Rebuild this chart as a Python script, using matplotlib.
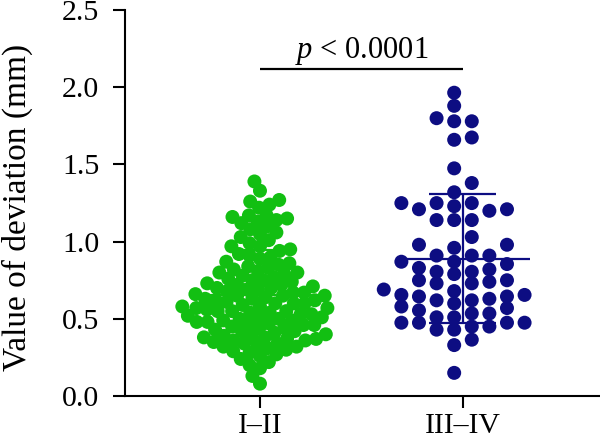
import numpy as np
import matplotlib
matplotlib.use('Agg')
import matplotlib.pyplot as plt

# ---------------- data ----------------
categories = ['I–II', 'III–IV']

green_values = [
    0.08, 0.13, 0.18, 0.20, 0.22, 0.24, 0.26, 0.27, 0.28, 0.29,
    0.30, 0.31, 0.32, 0.32, 0.33, 0.34, 0.34,
    0.35, 0.36, 0.36, 0.37, 0.37, 0.38, 0.38, 0.39, 0.39,
    0.40, 0.41, 0.42, 0.42, 0.43, 0.44, 0.44, 0.45,
    0.46, 0.46, 0.47, 0.47, 0.48, 0.48, 0.49, 0.49, 0.50, 0.50,
    0.51, 0.51, 0.52, 0.53, 0.53, 0.54, 0.54, 0.55, 0.55, 0.55,
    0.56, 0.57, 0.57, 0.58, 0.58, 0.59, 0.60, 0.60, 0.60,
    0.61, 0.62, 0.62, 0.63, 0.63, 0.64, 0.65, 0.65, 0.65,
    0.66, 0.67, 0.67, 0.68, 0.69, 0.69, 0.70, 0.70,
    0.71, 0.72, 0.72, 0.73, 0.74, 0.75, 0.75,
    0.76, 0.77, 0.78, 0.79, 0.80, 0.80,
    0.81, 0.82, 0.83, 0.84, 0.85,
    0.86, 0.87, 0.89, 0.90,
    0.91, 0.92, 0.94, 0.95,
    0.97, 0.97, 0.99,
    1.01, 1.03, 1.05,
    1.06, 1.08, 1.10,
    1.12, 1.13, 1.14, 1.15,
    1.16, 1.17, 1.17,
    1.22, 1.24, 1.26, 1.27, 1.33, 1.39,
]

blue_values = [
    1.25, 0.83, 0.69, 0.62, 0.475,
    1.32, 1.25, 0.96, 0.87, 0.75, 0.63, 0.57, 0.475,
    1.23, 1.14, 0.91, 0.82, 0.68, 0.60, 0.51, 0.43,
    1.965, 1.78, 1.675, 1.21, 0.98, 0.855, 0.75, 0.655, 0.51, 0.43, 0.33, 0.15,
    1.88, 1.78, 1.66, 1.475, 1.38, 1.14, 0.98, 0.79, 0.62, 0.535, 0.45, 0.365,
    1.80, 1.25, 1.14, 1.03, 0.91, 0.805, 0.73, 0.645, 0.535, 0.45,
    1.20, 0.91, 0.805, 0.73, 0.645, 0.555, 0.475,
    1.21, 0.87, 0.74, 0.655, 0.58, 0.475,
]

y_ticks = [0.0, 0.5, 1.0, 1.5, 2.0, 2.5]
y_label = 'Value of deviation (mm)'
p_label = r'$p$ < 0.0001'

green_color = '#12bf12'
blue_color = '#0d0d82'

# ---------------- style ----------------
plt.rcParams['font.family'] = ['Liberation Serif', 'DejaVu Serif']
plt.rcParams['mathtext.fontset'] = 'custom'
plt.rcParams['mathtext.rm'] = 'Liberation Serif'
plt.rcParams['mathtext.it'] = 'Liberation Serif:italic'

TICK_FS = 21.5
LABEL_FS = 24
P_FS = 22

fig = plt.figure(figsize=(6, 4.41), dpi=100)
ax = fig.add_axes([0.2083, 0.102, 0.7917, 0.875])
ax.set_xlim(-0.665, 1.675)
ax.set_ylim(0, 2.5)

# pixel scales from the axes transform
p0 = ax.transData.transform((0, 0))
p1 = ax.transData.transform((1, 1))
px_per_x = p1[0] - p0[0]
px_per_y = p1[1] - p0[1]

marker_px = 14.0
marker_s = (marker_px * 72 / fig.dpi) ** 2


def beeswarm(values, d_px):
    ys = np.asarray(values, dtype=float) * px_per_y
    order = np.argsort(ys, kind='stable')
    xs = np.zeros(len(ys))
    placed = []
    for i in order:
        y = ys[i]
        near = [(px, py) for px, py in placed if abs(py - y) < d_px]
        cands = [0.0]
        for px, py in near:
            dx = np.sqrt(d_px ** 2 - (py - y) ** 2)
            cands += [px - dx, px + dx]
        cands.sort(key=lambda c: (round(abs(c), 6), c))
        for c in cands:
            if all((c - px) ** 2 + (y - py) ** 2 >= d_px ** 2 - 1e-6 for px, py in near):
                xs[i] = c
                break
        placed.append((xs[i], y))
    return xs / px_per_x


def column_swarm(values, col_px, d_px):
    vals = np.asarray(values, dtype=float)
    d_y = d_px / px_per_y
    order = np.argsort(vals, kind='stable')
    cols = {}
    offs = np.zeros(len(vals))
    cand = []
    for k in range(12):
        cand += [-(k + 0.5), (k + 0.5)]
    for i in order:
        for c in cand:
            if all(abs(vals[i] - v) >= d_y - 1e-9 for v in cols.get(c, [])):
                cols.setdefault(c, []).append(vals[i])
                offs[i] = c
                break
    return offs * col_px / px_per_x


gx = beeswarm(green_values, 10.8)
bx = column_swarm(blue_values, 17.6, 11.0)

groups = [(green_values, gx, green_color), (blue_values, bx, blue_color)]
for i, (vals, offs, col) in enumerate(groups):
    vals = np.asarray(vals)
    ax.scatter(i + offs, vals, s=marker_s, color=col, edgecolors='none', zorder=3)
    m = vals.mean()
    sd = vals.std(ddof=1)
    ax.hlines(m, i - 0.33, i + 0.33, color=col, lw=1.6, zorder=4)
    ax.hlines([m - sd, m + sd], i - 0.165, i + 0.165, color=col, lw=1.6, zorder=4)
    ax.vlines(i, m - sd, m + sd, color=col, lw=1.6, zorder=4)

# significance bracket
ax.plot([0, 1], [2.12, 2.12], color='black', lw=1.6, zorder=5, solid_capstyle='butt')
ax.text(0.5, 2.19, p_label, ha='center', va='baseline', fontsize=P_FS)

# axes styling
for s in ['top', 'right']:
    ax.spines[s].set_visible(False)
for s in ['left', 'bottom']:
    ax.spines[s].set_linewidth(1.5)
ax.set_yticks(y_ticks)
ax.set_yticklabels([f'{t:.1f}' for t in y_ticks])
ax.set_xticks([0, 1])
ax.set_xticklabels(categories)
ax.tick_params(axis='both', direction='out', length=8.5, width=1.5, labelsize=TICK_FS)
ax.tick_params(axis='y', pad=10)
ax.tick_params(axis='x', pad=3.5)
ax.set_ylabel(y_label, fontsize=LABEL_FS, va='center')
ax.yaxis.set_label_coords(-0.227, 0.49)

fig.savefig('out.png', dpi=100)
